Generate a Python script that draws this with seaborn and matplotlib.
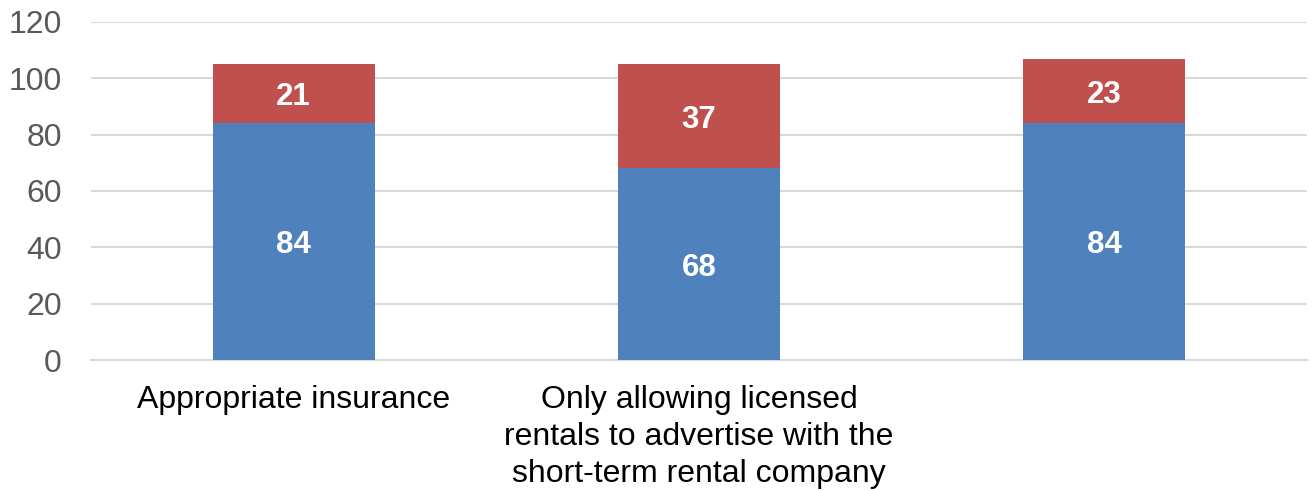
import matplotlib
matplotlib.use("Agg")
import matplotlib.pyplot as plt
import seaborn as sns
import pandas as pd

# Data
categories = [
    "Appropriate insurance",
    "Only allowing licensed\nrentals to advertise with the\nshort-term rental company",
    "",
]
base_values = [84, 68, 84]
top_values = [21, 37, 23]

BLUE = "#4F81BD"
RED = "#C0504D"

sns.set_theme(style="white")
plt.rcParams["font.family"] = ["Liberation Sans", "DejaVu Sans"]

df = pd.DataFrame({
    "category": [f"c{i}" for i in range(len(categories))],
    "base": base_values,
    "top": top_values,
})
df["total"] = df["base"] + df["top"]

fig = plt.figure(figsize=(13.12, 4.91), dpi=100)
ax = fig.add_axes([91 / 1312, 1 - 360 / 491, 1216 / 1312, 338 / 491])

# Stacked bars: full-height upper segment first, base segment drawn over it
sns.barplot(data=df, x="category", y="total", color=RED, saturation=1,
            width=0.4, ax=ax, zorder=3, linewidth=0)
sns.barplot(data=df, x="category", y="base", color=BLUE, saturation=1,
            width=0.4, ax=ax, zorder=4, linewidth=0)

for i, (b, t) in enumerate(zip(base_values, top_values)):
    ax.text(i, b / 2, f"{b}", ha="center", va="center_baseline", color="white",
            fontsize=22.5, fontweight="bold", zorder=5)
    ax.text(i, b + t / 2, f"{t}", ha="center", va="center_baseline", color="white",
            fontsize=22.5, fontweight="bold", zorder=5)

ax.set_ylim(0, 120)
ax.set_xlim(-0.5, len(categories) - 0.5)
ax.set_yticks(range(0, 121, 20))
ax.yaxis.grid(True, color="#D9D9D9", linewidth=1.5, zorder=0)
ax.set_axisbelow(True)
ax.set_xticks(range(len(categories)))
ax.set_xticklabels(categories, fontsize=23, color="black", linespacing=1.3)
ax.tick_params(axis="y", labelsize=23, labelcolor="#595959", length=0, pad=21)
ax.tick_params(axis="x", length=0, pad=18)
ax.set_xlabel("")
ax.set_ylabel("")

for side in ["top", "right", "left"]:
    ax.spines[side].set_visible(False)
ax.spines["bottom"].set_color("#D9D9D9")
ax.spines["bottom"].set_linewidth(1.5)

fig.savefig("out.png", dpi=100, facecolor="white")
